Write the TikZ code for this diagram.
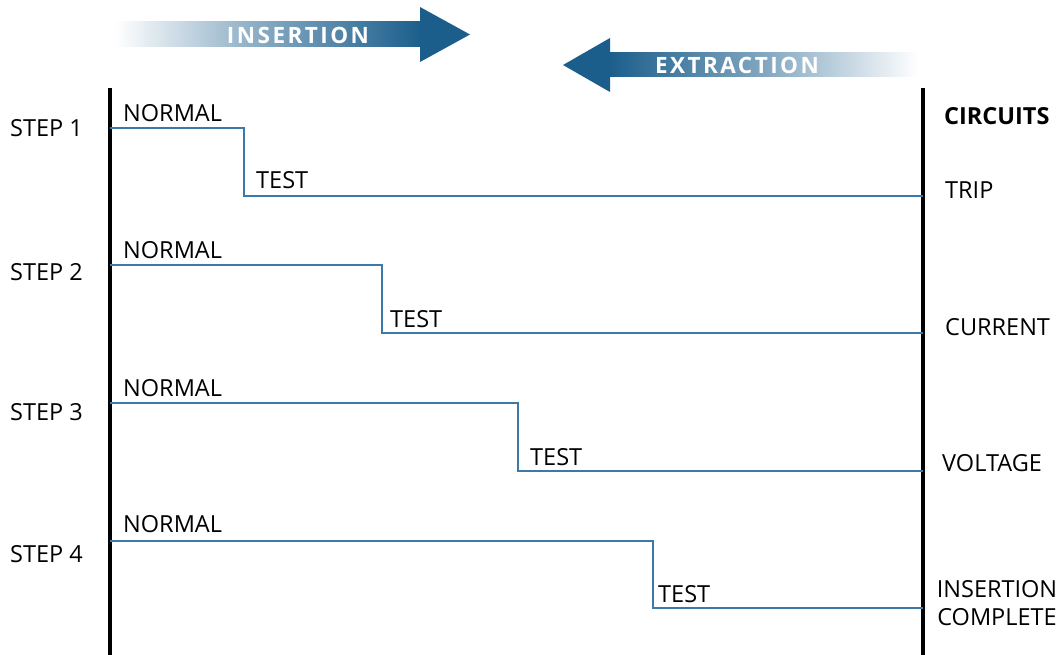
\documentclass[tikz,border=0pt]{standalone}
\usepackage{fontspec}
\setmainfont{Open Sans}
\usetikzlibrary{calc}
\definecolor{stepblue}{HTML}{3C78A8}
\definecolor{arrowblue}{HTML}{1B5E8C}
\begin{document}
\begin{tikzpicture}[x=1pt,y=-1pt,
  lbl/.style={anchor=base west,inner sep=0pt,font=\fontsize{23.5}{28}\selectfont},
  bar/.style={line width=4pt},
  stepline/.style={draw=stepblue,line width=1.5pt},
  arrowtxt/.style={inner sep=0pt,text=white,font=\fontsize{22.5}{26}\selectfont\bfseries\addfontfeature{LetterSpace=11}}]
\useasboundingbox (0,0) rectangle (1062,655);
% bars
\coordinate (lt) at (110,88);
\coordinate (lb) at (110,655);
\coordinate (rt) at (923,88);
\coordinate (rb) at (923,655);
\draw[bar] (lt) -- (lb);
\draw[bar] (rt) -- (rb);
% insertion arrow
\shade[left color=white,right color=arrowblue,middle color=arrowblue!55] (115,22) rectangle (421,47);
\fill[arrowblue] (420,22) -- (420,7) -- (470,34.5) -- (420,62) -- (420,47) -- cycle;
\node[arrowtxt] (ins) at (298,35) {INSERTION};
% extraction arrow
\shade[right color=white,left color=arrowblue,middle color=arrowblue!55] (609,53) rectangle (918,77);
\fill[arrowblue] (610,53) -- (610,38) -- (563,65) -- (610,92) -- (610,77) -- cycle;
\node[arrowtxt] (ext) at (737,65) {EXTRACTION};
% steps
\foreach \i/\ny/\tx/\ty/\sy/\nb/\tb/\to in {1/128/244/196/137/122/189/12, 2/265/382/333/280/258/327/8, 3/403/518/471/420/396/465/12, 4/541/653/608/562/532/602/5}{
  \coordinate (s\i a) at (110,\ny);
  \coordinate (s\i b) at (\tx,\ny);
  \coordinate (s\i c) at (\tx,\ty);
  \coordinate (s\i d) at (923,\ty);
  \draw[stepline] (s\i a) -- (s\i b) -- (s\i c) -- (s\i d);
  \node[lbl] (step\i) at (10,\sy) {STEP \i};
  \node[lbl] (normal\i) at (123,\nb) {NORMAL};
  \node[lbl] (test\i) at (\tx+\to,\tb) {TEST};
}
% circuits
\node[lbl,font=\fontsize{23.5}{28}\selectfont\bfseries] (circ) at (944,125) {CIRCUITS};
\node[lbl] (trip) at (945,198) {TRIP};
\node[lbl] (curr) at (945,335) {CURRENT};
\node[lbl] (volt) at (942,471) {VOLTAGE};
\node[inner sep=0pt,align=center,anchor=base,font=\fontsize{23.5}{28}\selectfont] (ic) at (997,625) {INSERTION\\COMPLETE};
\end{tikzpicture}
\end{document}
